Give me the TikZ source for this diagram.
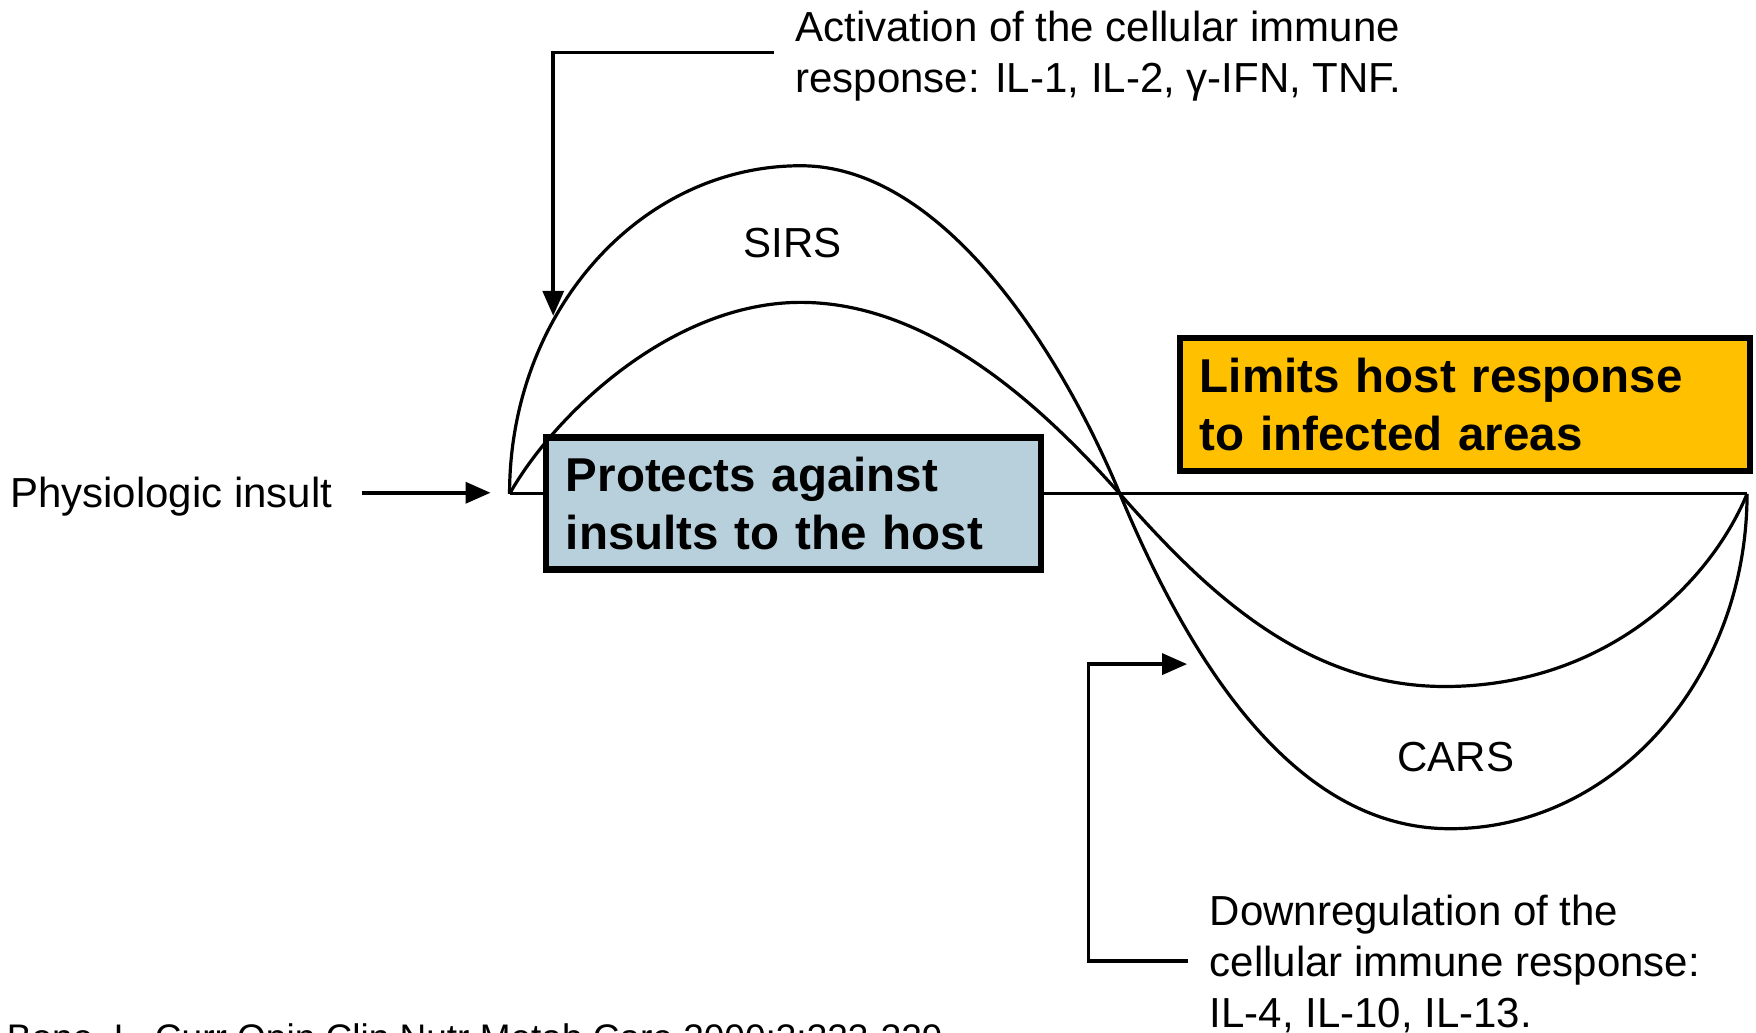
\documentclass[tikz,border=0pt]{standalone}
\usepackage{fontspec}
\setmainfont{Liberation Sans}
\usetikzlibrary{arrows.meta}
\definecolor{boxblue}{RGB}{183,208,219}
\definecolor{boxgold}{RGB}{255,192,0}
\begin{document}
\begin{tikzpicture}[x=1.1199pt,y=-1.1199pt,
  curve/.style={line width=3.2pt, line join=round},
  conn/.style={line width=3.6pt, -{Triangle[length=25pt,width=21pt]}},
  lbl/.style={inner sep=0pt, font=\fontsize{42}{51}\selectfont, align=left},
  tag/.style={inner sep=0pt, font=\fontsize{42}{50}\selectfont},
  callout/.style={draw=black, line width=6.4pt, inner xsep=20pt, inner ysep=0pt,
    font=\bfseries\fontsize{47.5}{58}\selectfont, align=left}
]
\useasboundingbox (0,0) rectangle (1568,922);

% key points of the curves
\coordinate (O) at (455,441);
\coordinate (X) at (1000,441);
\coordinate (E) at (1560,441);
\coordinate (Ptop) at (715,148);
\coordinate (Pin) at (715,270);
\coordinate (Bout) at (1295,740);
\coordinate (Bin) at (1290,613);

% baseline
\draw[curve] (O) -- (E);
% outer wave
\draw[curve] (O) .. controls (455,279) and (571,148) .. (Ptop)
  .. controls (840,148) and (945,309) .. (X)
  .. controls (1075,621) and (1170,740) .. (Bout)
  .. controls (1441,740) and (1560,606) .. (E);
% inner wave
\draw[curve] (O) .. controls (495,370) and (600,270) .. (Pin)
  .. controls (830,270) and (930,362) .. (X)
  .. controls (1070,520) and (1160,613) .. (Bin)
  .. controls (1430,613) and (1525,525) .. (E);

% labels
\node[tag] (sirs) at (708,217) {SIRS};
\node[tag] (cars) at (1300,676) {CARS};
\node[tag, anchor=base west] (phys) at (9,453) {Physiologic insult};
\node[lbl, anchor=north west] (act) at (710,10)
  {Activation of the cellular immune\\response: IL-1, IL-2, γ-IFN, TNF.};
\node[lbl, anchor=north west] (down) at (1080,799)
  {Downregulation of the\\cellular immune response:\\IL-4, IL-10, IL-13.};

% connectors
\coordinate (physS) at (323,440);
\coordinate (physTip) at (438,440);
\draw[conn] (physS) -- (physTip);

\coordinate (actS) at (691,47);
\coordinate (actTip) at (494,282);
\draw[conn] (actS) -| (actTip);

\coordinate (dnS) at (1061,858);
\coordinate (dnC) at (972,858);
\coordinate (dnTip) at (1060,593);
\draw[conn] (dnS) -- (dnC) |- (dnTip);

% callout boxes
\node[callout, fill=boxblue, minimum width=495pt, minimum height=132pt,
  text width=455pt] (protect) at (708.5,449.5)
  {Protects against\\insults to the host};
\node[callout, fill=boxgold, minimum width=570pt, minimum height=133pt,
  text width=530pt] (limits) at (1308,361)
  {Limits host response\\to infected areas};

% citation, cut by the lower edge
\begin{scope}
\clip (0,0) rectangle (1568,922);
\node[inner sep=0pt, anchor=base west, font=\fontsize{37}{44}\selectfont] (cite) at (6,938)
  {Bone, L. Curr Opin Clin Nutr Metab Care 2000;3:323-329};
\end{scope}
\end{tikzpicture}
\end{document}
